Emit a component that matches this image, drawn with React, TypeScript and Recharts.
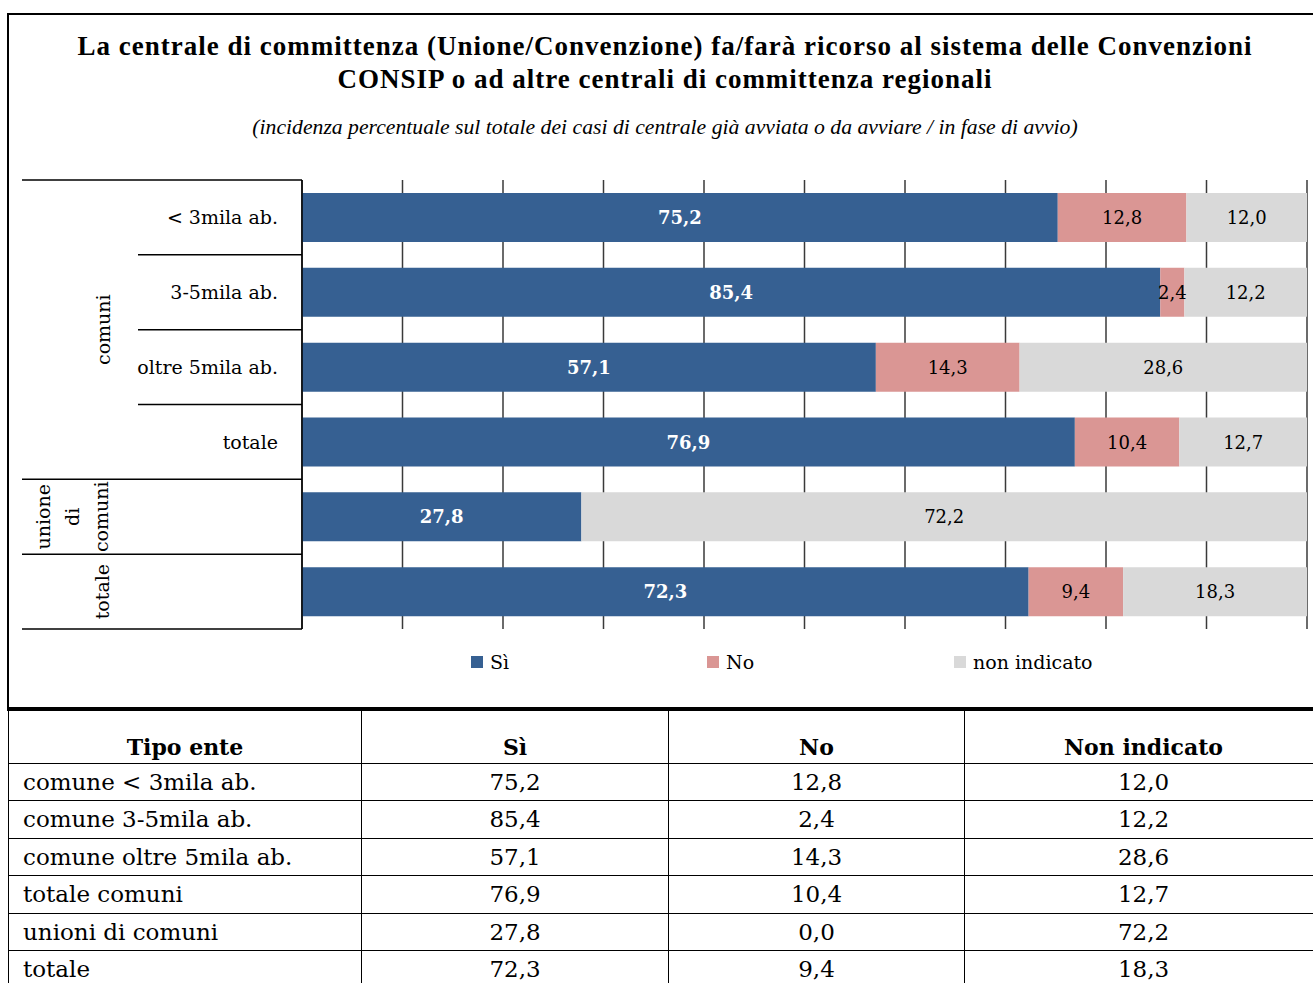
import React from "react"
import { BarChart, Bar, XAxis, YAxis, CartesianGrid, LabelList } from "recharts"

const rowKeys = ["c1", "c2", "c3", "ct", "un", "tot"]
const axisLabels = ["< 3mila ab.", "3-5mila ab.", "oltre 5mila ab.", "totale", "", ""]
const tableLabels = [
  "comune < 3mila ab.",
  "comune 3-5mila ab.",
  "comune oltre 5mila ab.",
  "totale comuni",
  "unioni di comuni",
  "totale",
]
const si = [75.2, 85.4, 57.1, 76.9, 27.8, 72.3]
const no = [12.8, 2.4, 14.3, 10.4, 0.0, 9.4]
const nonIndicato = [12.0, 12.2, 28.6, 12.7, 72.2, 18.3]
const xTicks = [0, 10, 20, 30, 40, 50, 60, 70, 80, 90, 100]

const seriesNames = ["Sì", "No", "non indicato"]
const colors = ["#366092", "#DA9694", "#D9D9D9"]

// title uses a Garamond-like face, body text a Palatino-like one
const TITLE_FONT = "'Liberation Serif', 'Times New Roman', serif"
const FONT = "'DejaVu Serif', serif"

const data = rowKeys.map((key, i) => ({
  key,
  si: si[i],
  no: no[i],
  nonIndicato: nonIndicato[i],
}))

const fmt = (v: number) => v.toFixed(1).replace(".", ",")

// chart geometry
const CHART_W = 1313
const CHART_H = 700
const MARGIN = { top: 180, right: 6, bottom: 71, left: 22 }
const YAXIS_W = 280
const AXIS_X = MARGIN.left + YAXIS_W
const BAND = (CHART_H - MARGIN.top - MARGIN.bottom) / rowKeys.length

function rotated(x: number, y: number, label: string, key: string) {
  return (
    <text
      key={key}
      x={x}
      y={y}
      transform={`rotate(-90, ${x}, ${y})`}
      textAnchor="middle"
      dominantBaseline="central"
      fontSize={19}
      fontFamily={FONT}
      fill="#000"
    >
      {label}
    </text>
  )
}

function CategoryTick(props: any) {
  const { y, payload } = props
  const i = rowKeys.indexOf(payload.value)
  const top = y - BAND / 2
  const bottom = y + BAND / 2
  const start = i >= 1 && i <= 3 ? 138 : MARGIN.left
  return (
    <g>
      <line x1={start} x2={AXIS_X} y1={top} y2={top} stroke="#000" strokeWidth={1.5} />
      {i === rowKeys.length - 1 && (
        <line x1={MARGIN.left} x2={AXIS_X} y1={bottom} y2={bottom} stroke="#000" strokeWidth={1.5} />
      )}
      {axisLabels[i] && (
        <text
          x={AXIS_X - 24}
          y={y}
          textAnchor="end"
          dominantBaseline="central"
          fontSize={19}
          fontFamily={FONT}
          fill="#000"
        >
          {axisLabels[i]}
        </text>
      )}
      {i === 0 && rotated(103, y + BAND * 1.5, "comuni", "g1")}
      {i === 4 && [
        rotated(43, y, "unione", "u1"),
        rotated(72, y, "di", "u2"),
        rotated(101, y, "comuni", "u3"),
      ]}
      {i === 5 && rotated(102, y, "totale", "t1")}
    </g>
  )
}

const makeLabel = (fill: string, weight: number) => (props: any) => {
  const { x, y, width, height, value } = props
  if (!value) return null
  return (
    <text
      x={x + width / 2}
      y={y + height / 2}
      textAnchor="middle"
      dominantBaseline="central"
      fontSize={18}
      fontWeight={weight}
      fontFamily={FONT}
      fill={fill}
    >
      {fmt(value)}
    </text>
  )
}

// vertical grid lines at the x ticks, through the x axis scale
const gridX = (args: any) => {
  const xAxis = args?.xAxis
  if (xAxis && typeof xAxis.scale === "function") {
    return xTicks.map((t) => xAxis.scale(t))
  }
  const off = args.offset
  return xTicks.map((t) => off.left + (t / 100) * off.width)
}

const cellBorder = "1.5px solid #000"

export default function App() {
  return (
    <div
      style={{
        position: "absolute",
        left: 0,
        top: 0,
        width: 1313,
        height: 983,
        overflow: "hidden",
        background: "#fff",
        fontFamily: FONT,
      }}
    >
      {/* frame */}
      <div
        style={{
          position: "absolute",
          left: 7,
          top: 13,
          width: 1400,
          height: 694,
          border: "2px solid #000",
        }}
      />

      <div
        style={{
          position: "absolute",
          top: 30,
          left: 0,
          width: 1330,
          textAlign: "center",
          fontFamily: TITLE_FONT,
        }}
      >
        <div style={{ fontSize: 27, fontWeight: 700, lineHeight: "33px", letterSpacing: 1 }}>
          La centrale di committenza (Unione/Convenzione) fa/farà ricorso al sistema delle Convenzioni
          <br />
          CONSIP o ad altre centrali di committenza regionali
        </div>
        <div style={{ fontSize: 21.7, fontStyle: "italic", marginTop: 19 }}>
          (incidenza percentuale sul totale dei casi di centrale già avviata o da avviare / in fase di avvio)
        </div>
      </div>

      <div style={{ position: "absolute", left: 0, top: 0 }}>
        <BarChart
          width={CHART_W}
          height={CHART_H}
          data={data}
          layout="vertical"
          margin={MARGIN}
          barSize={49}
        >
          <CartesianGrid
            horizontal={false}
            stroke="#3a3a3a"
            strokeWidth={1.5}
            verticalCoordinatesGenerator={gridX}
          />
          <XAxis
            type="number"
            domain={[0, 100]}
            ticks={xTicks}
            height={0}
            axisLine={false}
            tickLine={false}
            tick={() => <g />}
          />
          <YAxis
            type="category"
            dataKey="key"
            width={YAXIS_W}
            interval={0}
            axisLine={{ stroke: "#000", strokeWidth: 1.5 }}
            tickLine={false}
            tick={<CategoryTick />}
          />
          <Bar dataKey="si" stackId="a" fill={colors[0]} isAnimationActive={false}>
            <LabelList dataKey="si" content={makeLabel("#fff", 700)} />
          </Bar>
          <Bar dataKey="no" stackId="a" fill={colors[1]} isAnimationActive={false}>
            <LabelList dataKey="no" content={makeLabel("#000", 400)} />
          </Bar>
          <Bar dataKey="nonIndicato" stackId="a" fill={colors[2]} isAnimationActive={false}>
            <LabelList dataKey="nonIndicato" content={makeLabel("#000", 400)} />
          </Bar>
        </BarChart>
      </div>

      {/* legend */}
      {seriesNames.map((name, i) => (
        <div
          key={name}
          style={{
            position: "absolute",
            top: 650,
            left: [471, 707, 954][i],
            display: "flex",
            alignItems: "center",
            fontSize: 19,
            lineHeight: "24px",
          }}
        >
          <span
            style={{ display: "inline-block", width: 12, height: 12, background: colors[i], marginRight: 7 }}
          />
          {name}
        </div>
      ))}

      {/* table */}
      <table
        style={{
          position: "absolute",
          top: 707,
          left: 8,
          borderCollapse: "collapse",
          tableLayout: "fixed",
          width: 1314,
          fontSize: 23,
        }}
      >
        <colgroup>
          <col style={{ width: 353 }} />
          <col style={{ width: 307 }} />
          <col style={{ width: 296 }} />
          <col style={{ width: 358 }} />
        </colgroup>
        <thead>
          <tr style={{ height: 55 }}>
            {["Tipo ente", "Sì", "No", "Non indicato"].map((h) => (
              <th
                key={h}
                style={{
                  border: cellBorder,
                  borderTop: "2px solid #000",
                  verticalAlign: "bottom",
                  padding: "0 0 2px 0",
                  fontWeight: 700,
                  fontSize: 22,
                  lineHeight: "28px",
                }}
              >
                {h}
              </th>
            ))}
          </tr>
        </thead>
        <tbody>
          {tableLabels.map((lab, i) => (
            <tr key={lab + i} style={{ height: 37.5 }}>
              <td style={{ border: cellBorder, padding: "0 0 0 14px", lineHeight: "34px" }}>{lab}</td>
              <td style={{ border: cellBorder, textAlign: "center", padding: 0 }}>{fmt(si[i])}</td>
              <td style={{ border: cellBorder, textAlign: "center", padding: 0 }}>{fmt(no[i])}</td>
              <td style={{ border: cellBorder, textAlign: "center", padding: 0 }}>{fmt(nonIndicato[i])}</td>
            </tr>
          ))}
        </tbody>
      </table>
    </div>
  )
}
